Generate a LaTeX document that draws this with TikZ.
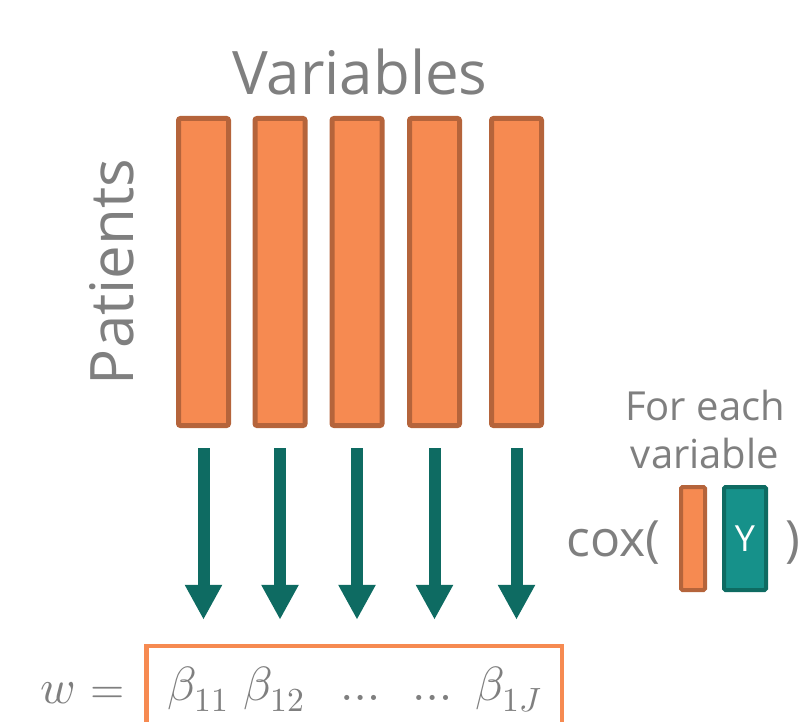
\documentclass[tikz,border=0pt]{standalone}
\usepackage{fontspec}
\usepackage{unicode-math}
\setmainfont{Open Sans}
\setmathfont{Latin Modern Math}
\usetikzlibrary{arrows.meta}
\definecolor{barfill}{HTML}{F68A51}
\definecolor{barline}{HTML}{B5643B}
\definecolor{tealdark}{HTML}{0E6B62}
\definecolor{tealfill}{HTML}{16918A}
\definecolor{txtgray}{HTML}{7F7F7F}
\tikzset{
  varbar/.style={draw=barline, fill=barfill, line width=5pt, rounded corners=2pt,
    minimum width=50pt, minimum height=307pt, inner sep=0pt},
  downarrow/.style={draw=tealdark, line width=12pt,
    -{Triangle[width=35pt,length=35pt]}, shorten <=20pt, shorten >=24pt},
  bigtext/.style={text=txtgray, font=\fontsize{60}{70}\selectfont, inner sep=0pt},
  midtext/.style={text=txtgray, font=\fontsize{40}{50}\selectfont, inner sep=0pt},
  coxtext/.style={text=txtgray, font=\fontsize{50}{60}\selectfont, inner sep=0pt, anchor=base west},
  mathtext/.style={text=txtgray, font=\fontsize{48}{56}\selectfont, inner sep=0pt, anchor=base west},
}
\begin{document}
\begin{tikzpicture}[x=1pt,y=-1pt]
\useasboundingbox (0,0) rectangle (803,722);
% bars
\foreach \i/\x in {1/203.5,2/280,3/357,4/434.5,5/516.5}{
  \node[varbar] (b\i) at (\x,272) {};
}
% result box
\node[draw=barfill, line width=4.5pt, minimum width=415.5pt, minimum height=106pt, inner sep=0pt] (box) at (354,699) {};
% arrows
\foreach \i in {1,...,5}{
  \draw[downarrow] (b\i.south) -- (b\i.south |- box.north);
}
% labels
\node[bigtext, anchor=base] (vars) at (360,95) {Variables};
\node[bigtext, anchor=base, rotate=90] (pats) at (133,272) {Patients};
\node[midtext, anchor=base] (fe1) at (705,420) {For each};
\node[midtext, anchor=base] (fe2) at (705,468) {variable};
\node[coxtext] (cox) at (566,556) {cox(};
\node[draw=barline, fill=barfill, line width=4pt, rounded corners=1.5pt, minimum width=24pt, minimum height=103pt, inner sep=0pt] (sb) at (693,538.5) {};
\node[draw=tealdark, fill=tealfill, line width=4pt, rounded corners=1.5pt, minimum width=42pt, minimum height=103pt, inner sep=0pt, text=white, font=\fontsize{36}{40}\selectfont] (yb) at (745,538.5) {Y};
\node[coxtext] (cpar) at (785,556) {)};
% formula
\node[mathtext] (w) at (40,703) {$w$};
\node[mathtext, font=\fontsize{44}{52}\selectfont] (eq) at (90,703) {$=$};
\node[mathtext] (b11) at (167,700) {$\beta_{11}$};
\node[mathtext] (b12) at (243,700) {$\beta_{12}$};
\node[mathtext] (d1) at (340,700) {$\ldots$};
\node[mathtext] (d2) at (412,700) {$\ldots$};
\node[mathtext] (b1j) at (475,700) {$\beta_{1J}$};
\end{tikzpicture}
\end{document}
